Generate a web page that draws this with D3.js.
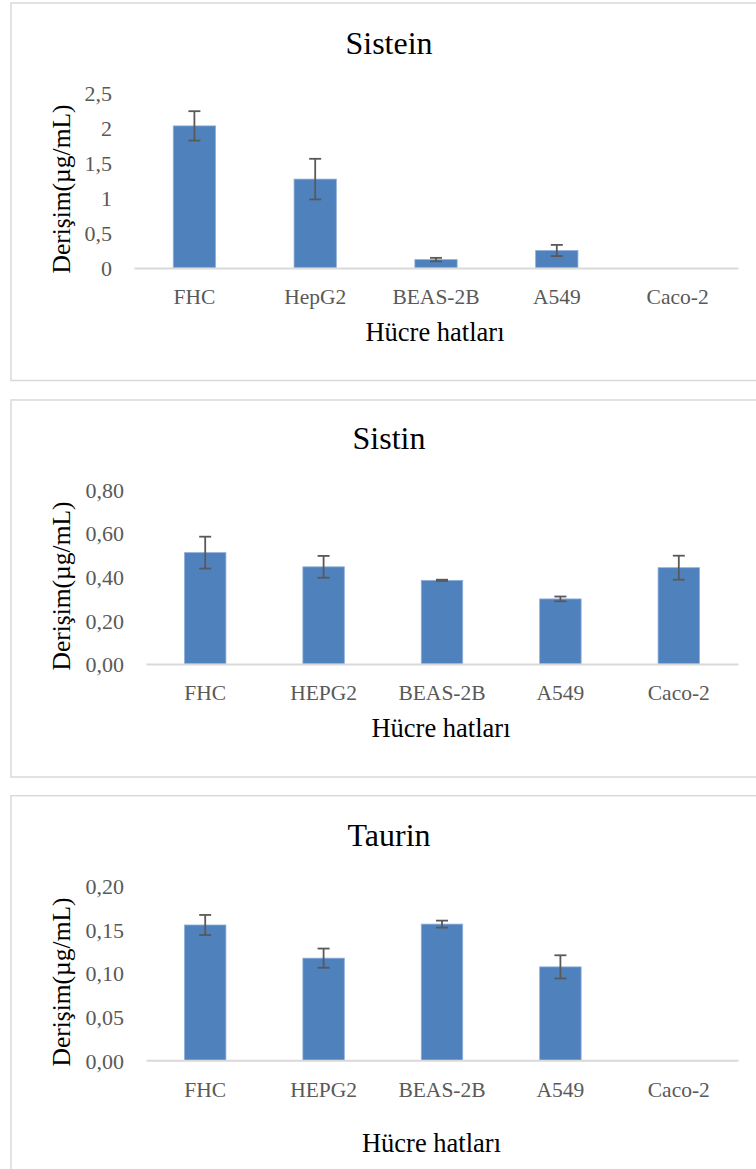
<!DOCTYPE html>
<html>
<head>
<meta charset="utf-8">
<script src="https://cdn.jsdelivr.net/npm/d3@7/dist/d3.min.js"></script>
<style>
  html, body { margin: 0; padding: 0; background: #ffffff; }
  svg { display: block; }
</style>
</head>
<body>
<svg id="chart" width="756" height="1169"></svg>
<script>
// Cell lines on the x axis
const categoriesA = ["FHC", "HepG2", "BEAS-2B", "A549", "Caco-2"];
const categoriesB = ["FHC", "HEPG2", "BEAS-2B", "A549", "Caco-2"];

// Mean concentrations (µg/mL) and their error (±)
const sisteinValues = [2.03, 1.27, 0.12, 0.25, null];
const sisteinErrors = [0.21, 0.29, 0.025, 0.08, null];
const sistinValues = [0.51, 0.445, 0.383, 0.298, 0.441];
const sistinErrors = [0.073, 0.05, 0.003, 0.011, 0.055];
const taurinValues = [0.155, 0.117, 0.156, 0.107, null];
const taurinErrors = [0.0115, 0.011, 0.004, 0.0133, null];

// Y axis ticks and their labels (decimal comma)
const sisteinTicks = [0, 0.5, 1, 1.5, 2, 2.5];
const sisteinTickLabels = ["0", "0,5", "1", "1,5", "2", "2,5"];
const sistinTicks = [0, 0.2, 0.4, 0.6, 0.8];
const sistinTickLabels = ["0,00", "0,20", "0,40", "0,60", "0,80"];
const taurinTicks = [0, 0.05, 0.1, 0.15, 0.2];
const taurinTickLabels = ["0,00", "0,05", "0,10", "0,15", "0,20"];

const titles = ["Sistein", "Sistin", "Taurin"];
const yTitle = "Derişim(µg/mL)";
const xTitle = "Hücre hatları";

const FONT = "'Liberation Serif', 'Times New Roman', serif";
const BAR = "#4f81bd";
const ERR = "#595959";
const GRID = "#d9d9d9";
const TICK = "#595959";

const svg = d3.select("#chart");

const panels = [
  { title: titles[0], cats: categoriesA, values: sisteinValues, errors: sisteinErrors,
    ticks: sisteinTicks, tickLabels: sisteinTickLabels,
    box: { y0: 3, y1: 380.5 },
    plot: { x0: 134, x1: 738, yTop: 93, yBase: 268 },
    titleY: 54, tickRight: 112, catY: 304, xTitleX: 435, xTitleY: 341, yTitleY: 189 },
  { title: titles[1], cats: categoriesB, values: sistinValues, errors: sistinErrors,
    ticks: sistinTicks, tickLabels: sistinTickLabels,
    box: { y0: 400, y1: 777 },
    plot: { x0: 146, x1: 738, yTop: 489.3, yBase: 664 },
    titleY: 449, tickRight: 124, catY: 700, xTitleX: 441, xTitleY: 737, yTitleY: 586 },
  { title: titles[2], cats: categoriesB, values: taurinValues, errors: taurinErrors,
    ticks: taurinTicks, tickLabels: taurinTickLabels,
    box: { y0: 795.7, y1: 1190 },
    plot: { x0: 146, x1: 738, yTop: 885.7, yBase: 1060.3 },
    titleY: 846, tickRight: 124, catY: 1097, xTitleX: 431.5, xTitleY: 1152, yTitleY: 982 }
];

panels.forEach(p => {
  const g = svg.append("g");

  // panel frame
  g.append("rect")
    .attr("x", 11).attr("y", p.box.y0)
    .attr("width", 760).attr("height", p.box.y1 - p.box.y0)
    .attr("fill", "#ffffff")
    .attr("stroke", GRID).attr("stroke-width", 1.5);

  // title
  g.append("text")
    .attr("x", 389).attr("y", p.titleY)
    .attr("text-anchor", "middle")
    .attr("font-family", FONT).attr("font-size", 32)
    .attr("fill", "#000000")
    .text(p.title);

  const x = d3.scaleBand()
    .domain(p.cats)
    .range([p.plot.x0, p.plot.x1])
    .paddingInner(0.65)
    .paddingOuter(0.325);

  const yMax = p.ticks[p.ticks.length - 1];
  const y = d3.scaleLinear()
    .domain([0, yMax])
    .range([p.plot.yBase, p.plot.yTop]);

  // y axis tick labels (no axis line)
  const yAxis = d3.axisLeft(y)
    .tickValues(p.ticks)
    .tickSize(0)
    .tickFormat((d, i) => p.tickLabels[i]);
  const yg = g.append("g")
    .attr("transform", `translate(${p.tickRight},0)`)
    .call(yAxis);
  yg.select(".domain").remove();
  yg.selectAll("text")
    .attr("x", 0)
    .attr("dy", "0.35em")
    .attr("font-family", FONT).attr("font-size", 22)
    .attr("fill", TICK);

  // bars
  const rows = p.cats.map((c, i) => ({ cat: c, v: p.values[i], e: p.errors[i] }));
  g.selectAll("rect.bar")
    .data(rows.filter(d => d.v != null))
    .join("rect")
    .attr("class", "bar")
    .attr("x", d => x(d.cat))
    .attr("y", d => y(d.v))
    .attr("width", x.bandwidth())
    .attr("height", d => y(0) - y(d.v))
    .attr("fill", BAR)
    .attr("stroke", "#8eaedb").attr("stroke-width", 0.8);

  // baseline
  const xAxis = d3.axisBottom(x).tickSize(0).tickPadding(0);
  const xg = g.append("g")
    .attr("transform", `translate(0,${y(0)})`)
    .call(xAxis);
  xg.select(".domain")
    .attr("stroke", GRID).attr("stroke-width", 2);
  xg.selectAll("text")
    .attr("y", p.catY - y(0))
    .attr("dy", 0)
    .attr("font-family", FONT).attr("font-size", 21.5)
    .attr("fill", TICK);

  // error bars
  const errRows = rows.filter(d => d.v != null && d.e != null);
  const cx = d => x(d.cat) + x.bandwidth() / 2;
  const cap = 6;
  const eg = g.append("g")
    .attr("stroke", ERR).attr("stroke-width", 1.8).attr("fill", "none");
  eg.selectAll("line.stem").data(errRows).join("line")
    .attr("x1", cx).attr("x2", cx)
    .attr("y1", d => y(d.v + d.e)).attr("y2", d => y(d.v - d.e));
  eg.selectAll("line.top").data(errRows).join("line")
    .attr("x1", d => cx(d) - cap).attr("x2", d => cx(d) + cap)
    .attr("y1", d => y(d.v + d.e)).attr("y2", d => y(d.v + d.e));
  eg.selectAll("line.bottom").data(errRows).join("line")
    .attr("x1", d => cx(d) - cap).attr("x2", d => cx(d) + cap)
    .attr("y1", d => y(d.v - d.e)).attr("y2", d => y(d.v - d.e));

  // axis titles
  g.append("text")
    .attr("transform", `translate(70,${p.yTitleY}) rotate(-90)`)
    .attr("text-anchor", "middle")
    .attr("font-family", FONT).attr("font-size", 25.5)
    .attr("fill", "#000000")
    .text(yTitle);

  g.append("text")
    .attr("x", p.xTitleX).attr("y", p.xTitleY)
    .attr("text-anchor", "middle")
    .attr("font-family", FONT).attr("font-size", 26.5)
    .attr("fill", "#000000")
    .text(xTitle);
});
</script>
</body>
</html>
